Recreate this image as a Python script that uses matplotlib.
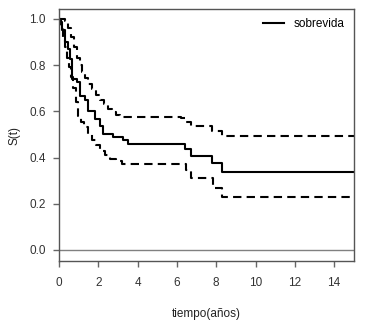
import matplotlib
matplotlib.use('Agg')
import matplotlib.pyplot as plt

plt.rcParams['font.family'] = ['Liberation Sans', 'DejaVu Sans']

# Kaplan-Meier estimate (step times in years, survival after each step)
surv_t = [0, 0.05, 0.15, 0.3, 0.48, 0.56, 0.65, 0.9, 1.07, 1.33, 1.48, 1.84, 2.09,
          2.26, 2.77, 3.27, 3.52, 6.4, 6.7, 7.8, 8.3]
surv_s = [1.0, 0.985, 0.95, 0.90, 0.87, 0.826, 0.74, 0.725, 0.665, 0.65, 0.60, 0.565,
          0.535, 0.50, 0.49, 0.478, 0.46, 0.435, 0.405, 0.375, 0.338]

# upper confidence band
upper_t = [0, 0.3, 0.45, 0.6, 0.75, 0.9, 1.05, 1.2, 1.35, 1.5, 1.7, 1.9, 2.1, 2.3,
           2.5, 2.7, 2.9, 3.1, 6.2, 6.45, 6.7, 7.8, 8.3]
upper_s = [1.0, 0.99, 0.96, 0.92, 0.88, 0.83, 0.80, 0.77, 0.745, 0.72, 0.695, 0.67,
           0.65, 0.63, 0.61, 0.595, 0.585, 0.575, 0.57, 0.555, 0.535, 0.515, 0.495]

# lower confidence band
lower_t = [0, 0.1, 0.2, 0.3, 0.4, 0.5, 0.6, 0.7, 0.85, 0.97, 1.1, 1.3, 1.5, 1.7,
           1.9, 2.1, 2.35, 2.6, 2.9, 3.2, 6.1, 6.45, 6.7, 7.85, 8.3]
lower_s = [1.0, 0.96, 0.92, 0.88, 0.83, 0.79, 0.75, 0.70, 0.64, 0.58, 0.555, 0.53,
           0.50, 0.475, 0.455, 0.43, 0.41, 0.395, 0.385, 0.373, 0.37, 0.345, 0.31,
           0.27, 0.23]

t_max = 15
x_ticks = [0, 2, 4, 6, 8, 10, 12, 14]
y_ticks = [0.0, 0.2, 0.4, 0.6, 0.8, 1.0]

fig = plt.figure(figsize=(3.85, 3.34), dpi=100)
ax = fig.add_axes([0.153, 0.2186, 0.766, 0.7544])


def extend(t, s):
    # carry the last value out to the end of follow-up
    return list(t) + [t_max], list(s) + [s[-1]]


t, s = extend(surv_t, surv_s)
ax.step(t, s, where='post', color='black', lw=1.5, label='sobrevida')
t, s = extend(upper_t, upper_s)
ax.step(t, s, where='post', color='black', lw=1.5, ls=(0, (4, 2.5)))
t, s = extend(lower_t, lower_s)
ax.step(t, s, where='post', color='black', lw=1.5, ls=(0, (4, 2.5)))

ax.axhline(0, color='#808080', lw=1)

ax.set_xlim(0, t_max)
ax.set_ylim(-0.048, 1.043)
ax.set_xticks(x_ticks)
ax.set_yticks(y_ticks)
ax.set_xticklabels([str(x) for x in x_ticks])
ax.set_yticklabels([f"{y:.1f}" for y in y_ticks])

for sp in ax.spines.values():
    sp.set_color('#555555')
    sp.set_linewidth(1)
ax.tick_params(colors='#666666', labelcolor='#333333', labelsize=8.5, length=4.5, width=1)
ax.tick_params(axis='x', pad=7)
ax.tick_params(axis='y', pad=5)

ax.set_xlabel('tiempo(años)', fontsize=8.5, color='#222222', labelpad=14)
ax.set_ylabel('S(t)', fontsize=8.5, color='#222222', labelpad=6)

ax.legend(loc='upper right', frameon=False, fontsize=8.5, handlelength=1.8,
          borderaxespad=0.4, handletextpad=0.8)

fig.savefig('out.png', dpi=100)
